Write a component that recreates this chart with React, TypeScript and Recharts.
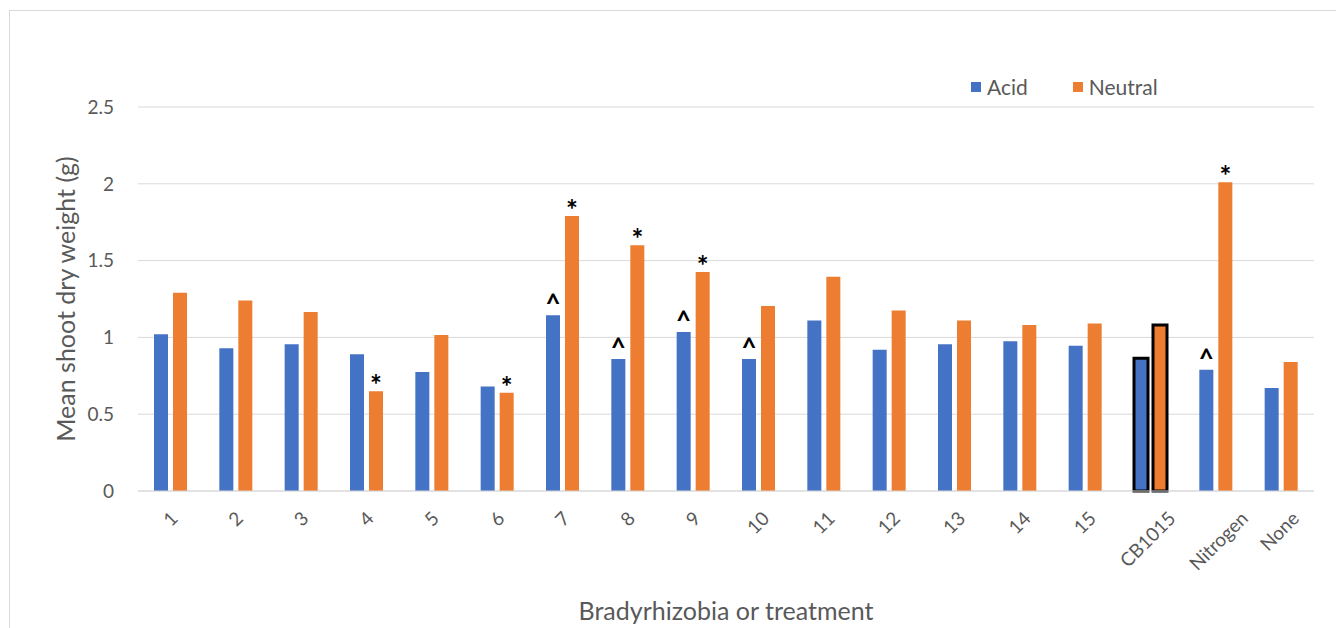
import React from "react";
import {
  BarChart,
  Bar,
  XAxis,
  YAxis,
  CartesianGrid,
  Legend,
  Cell,
  LabelList,
} from "recharts";

const categories = [
  "1", "2", "3", "4", "5", "6", "7", "8", "9", "10",
  "11", "12", "13", "14", "15", "CB1015", "Nitrogen", "None",
];
const acid = [
  1.02, 0.93, 0.955, 0.89, 0.775, 0.68, 1.145, 0.86, 1.035, 0.86,
  1.11, 0.92, 0.955, 0.975, 0.945, 0.865, 0.79, 0.67,
];
const neutral = [
  1.29, 1.24, 1.165, 0.65, 1.015, 0.64, 1.79, 1.6, 1.425, 1.205,
  1.395, 1.175, 1.11, 1.08, 1.09, 1.08, 2.01, 0.84,
];
// significance marks: ^ over acid, * over neutral
const acidMarks = [
  "", "", "", "", "", "", "^", "^", "^", "^",
  "", "", "", "", "", "", "^", "",
];
const neutralMarks = [
  "", "", "", "*", "", "*", "*", "*", "*", "",
  "", "", "", "", "", "", "*", "",
];
const outlined = ["CB1015"];
const yTicks = [0, 0.5, 1, 1.5, 2, 2.5];

const data = categories.map((name, i) => ({
  name,
  acid: acid[i],
  neutral: neutral[i],
  acidMark: acidMarks[i],
  neutralMark: neutralMarks[i],
}));

const FONT = "Lato, 'Open Sans', sans-serif";
const GREY = "#595959";
const TICK_FS = 19;

// rotated label, centred horizontally under the tick like Excel does
function XTick({ x, y, payload }: any) {
  const label = String(payload.value);
  const w = label.length * 0.53 * TICK_FS;
  const h = 0.72 * TICK_FS;
  const ox = x + 0.354 * (w + h);
  const oy = y + 11 + 0.707 * h;
  return (
    <g transform={`translate(${ox},${oy})`}>
      <text
        transform="rotate(-45)"
        textAnchor="end"
        fill={GREY}
        fontSize={TICK_FS}
        fontFamily={FONT}
      >
        {label}
      </text>
    </g>
  );
}

function Mark({ x, y, width, value }: any) {
  if (!value) return null;
  const star = value === "*";
  return (
    <text
      x={x + width / 2}
      y={star ? y + 4 : y - 2}
      textAnchor="middle"
      fill="#000"
      fontSize={star ? 28 : 26}
      fontWeight={700}
      fontFamily={FONT}
    >
      {value}
    </text>
  );
}

function LegendBox({ payload }: any) {
  return (
    <div
      style={{
        display: "flex",
        gap: 45,
        height: 22,
        lineHeight: "22px",
        fontFamily: FONT,
        fontSize: 21,
        color: GREY,
      }}
    >
      {payload.map((p: any) => (
        <span key={p.value} style={{ display: "flex", alignItems: "center" }}>
          <span style={{ width: 10, height: 10, background: p.color, marginRight: 6 }} />
          {p.value}
        </span>
      ))}
    </div>
  );
}

export default function App() {
  return (
    <div
      style={{
        marginTop: 2,
        marginLeft: 1,
        width: 1326,
        height: 650,
        border: "1px solid #d9d9d9",
        background: "#fff",
      }}
    >
      <BarChart
        width={1326}
        height={642}
        data={data}
        margin={{ top: 96, right: 22, bottom: 10, left: 0 }}
        barSize={14}
        barGap={5}
      >
        <CartesianGrid vertical={false} stroke="#d9d9d9" />
        <XAxis
          dataKey="name"
          interval={0}
          height={130}
          tick={<XTick />}
          tickLine={false}
          axisLine={{ stroke: "#d9d9d9" }}
          label={{
            value: "Bradyrhizobia or treatment",
            position: "insideBottom",
            offset: 1,
            fill: GREY,
            fontSize: 25,
            fontFamily: FONT,
          }}
        />
        <YAxis
          width={128}
          domain={[0, 2.5]}
          ticks={yTicks}
          tickLine={false}
          axisLine={false}
          tickSize={0}
          tickMargin={24}
          tick={{ fill: GREY, fontSize: TICK_FS, fontFamily: FONT }}
          label={{
            value: "Mean shoot dry weight (g)",
            angle: -90,
            position: "insideLeft",
            offset: 56,
            fill: GREY,
            fontSize: 25,
            fontFamily: FONT,
            style: { textAnchor: "middle" },
          }}
        />
        <Legend
          content={<LegendBox />}
          wrapperStyle={{ position: "absolute", top: 65, left: 961, width: "auto" }}
        />
        <Bar dataKey="acid" name="Acid" fill="#4472C4" isAnimationActive={false}>
          {data.map((d) => (
            <Cell
              key={d.name}
              stroke={outlined.includes(d.name) ? "#000" : "none"}
              strokeWidth={outlined.includes(d.name) ? 3 : 0}
            />
          ))}
          <LabelList dataKey="acidMark" content={<Mark />} />
        </Bar>
        <Bar dataKey="neutral" name="Neutral" fill="#ED7D31" isAnimationActive={false}>
          {data.map((d) => (
            <Cell
              key={d.name}
              stroke={outlined.includes(d.name) ? "#000" : "none"}
              strokeWidth={outlined.includes(d.name) ? 3 : 0}
            />
          ))}
          <LabelList dataKey="neutralMark" content={<Mark />} />
        </Bar>
      </BarChart>
    </div>
  );
}
